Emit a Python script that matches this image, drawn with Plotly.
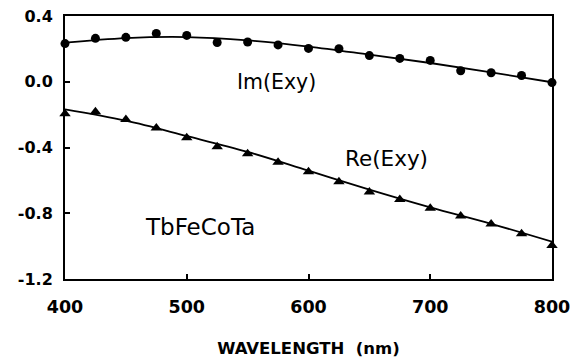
import plotly.graph_objects as go

# Measured points (wavelength in nm)
wavelength = [400, 425, 450, 475, 500, 525, 550, 575, 600,
              625, 650, 675, 700, 725, 750, 775, 800]
im_exy = [0.232, 0.264, 0.270, 0.294, 0.282, 0.239, 0.242, 0.224, 0.203,
          0.201, 0.159, 0.142, 0.130, 0.067, 0.055, 0.038, -0.005]
re_exy = [-0.195, -0.182, -0.229, -0.281, -0.340, -0.395, -0.438, -0.489, -0.547,
          -0.608, -0.670, -0.716, -0.770, -0.816, -0.866, -0.924, -0.996]

# Calculated curves
fit_wavelength = [400, 450, 500, 550, 600, 650, 700, 750, 800]
im_fit = [0.238, 0.266, 0.272, 0.252, 0.214, 0.165, 0.114, 0.057, -0.003]
re_fit = [-0.168, -0.237, -0.330, -0.427, -0.541, -0.656, -0.764, -0.864, -0.973]

x_ticks = [400, 500, 600, 700, 800]
y_ticks = [0.4, 0.0, -0.4, -0.8, -1.2]
y_tick_text = ["0.4", "0.0", "-0.4", "-0.8", "-1.2"]

fig = go.Figure()

fig.add_trace(go.Scatter(x=fit_wavelength, y=im_fit, mode="lines",
                         line=dict(color="black", width=1.8, shape="spline"),
                         cliponaxis=False, showlegend=False))
fig.add_trace(go.Scatter(x=fit_wavelength, y=re_fit, mode="lines",
                         line=dict(color="black", width=1.8, shape="spline"),
                         cliponaxis=False, showlegend=False))
fig.add_trace(go.Scatter(x=wavelength, y=im_exy, mode="markers",
                         marker=dict(symbol="circle", size=9, color="black"),
                         cliponaxis=False, showlegend=False))
fig.add_trace(go.Scatter(x=wavelength, y=re_exy, mode="markers",
                         marker=dict(symbol="triangle-up", size=10, color="black"),
                         cliponaxis=False, showlegend=False))

label_font = dict(family="DejaVu Sans", size=20.5, color="black")
fig.add_annotation(x=573.5, y=0.0, text="Im(Exy)", showarrow=False, font=label_font)
fig.add_annotation(x=664, y=-0.466, text="Re(Exy)", showarrow=False,
                   font=dict(family="DejaVu Sans", size=21.5, color="black"))
fig.add_annotation(x=511, y=-0.885, text="TbFeCoTa", showarrow=False,
                   font=dict(family="DejaVu Sans", size=23, color="black"))

fig.update_layout(
    width=573, height=358,
    margin=dict(l=65, r=21, t=16, b=79),
    paper_bgcolor="white", plot_bgcolor="white",
    xaxis=dict(
        range=[400, 800], tickvals=x_ticks, automargin=False,
        showgrid=False, zeroline=False,
        showline=True, linecolor="black", linewidth=2, mirror=True,
        ticks="inside", ticklen=5, tickwidth=1.5, tickcolor="black",
        ticklabelstandoff=11,
        tickfont=dict(family="DejaVu Sans", size=17.5, color="black", weight="bold"),
        title=dict(text="WAVELENGTH\u00a0\u00a0(nm)", standoff=42,
                   font=dict(family="DejaVu Sans", size=16.5, color="black", weight="bold")),
    ),
    yaxis=dict(
        range=[-1.2, 0.4], tickvals=y_ticks, ticktext=y_tick_text, automargin=False,
        showgrid=False, zeroline=False,
        showline=True, linecolor="black", linewidth=2, mirror=True,
        ticks="inside", ticklen=5, tickwidth=1.5, tickcolor="black",
        ticklabelstandoff=7,
        tickfont=dict(family="DejaVu Sans", size=16, color="black", weight="bold"),
    ),
)

fig.write_html("out.html")
